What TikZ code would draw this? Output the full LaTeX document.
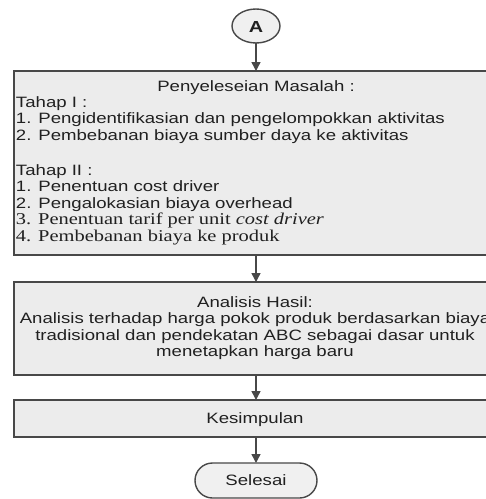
\documentclass[tikz,border=0pt]{standalone}
\usepackage{fontspec}
\setmainfont{Liberation Sans}[FakeStretch=1.24]
\newfontfamily\tms{Liberation Serif}[FakeStretch=1.24]
\usetikzlibrary{arrows.meta,shapes.geometric,shapes.misc}
\definecolor{boxfill}{HTML}{ECECEC}
\definecolor{termfill}{HTML}{F0F0F0}
\definecolor{edge}{HTML}{484848}
\definecolor{ink}{HTML}{202020}
\begin{document}
\begin{tikzpicture}[x=1pt,y=-1pt,
  procbox/.style={draw=edge,fill=boxfill,line width=1.4pt,rectangle,inner sep=0pt,outer sep=0pt,minimum width=484pt},
  termnode/.style={draw=edge,fill=termfill,line width=1.4pt,inner sep=0pt,outer sep=0pt},
  txt/.style={inner sep=0pt,outer sep=0pt,text=ink,font=\fontsize{15}{16.5}\selectfont},
  ttxt/.style={inner sep=0pt,outer sep=0pt,text=ink,font=\fontsize{16.5}{16.5}\selectfont\tms},
  arr/.style={draw=edge,line width=1.4pt,-{Triangle[width=9pt,length=9pt]}}]
\useasboundingbox (0,0) rectangle (486,499);
\clip (0,0) rectangle (486,499);
\fill[white] (0,0) rectangle (486,499);
% nodes
\node[termnode,ellipse,minimum width=48pt,minimum height=34pt] (A) at (256,26) {};
\node[inner sep=0pt,anchor=base,text=ink,font=\fontsize{16}{16}\selectfont\bfseries] (Alab) at (256,32) {A};
\node[procbox,minimum height=184pt] (b1) at (256,163) {};
\node[procbox,minimum height=93pt] (b2) at (256,328.5) {};
\node[procbox,minimum height=37pt] (b3) at (256,418.5) {};
\node[termnode,rounded rectangle,minimum width=122pt,minimum height=35pt] (end) at (256,480.5) {};
% texts box 1
\node[txt,anchor=base] (t0) at (256,91) {Penyeleseian Masalah :};
\node[txt,anchor=base west] (t1) at (16,107) {Tahap I :};
\node[txt,anchor=base west] (t2) at (16,123.5) {1. Pengidentifikasian dan pengelompokkan aktivitas};
\node[txt,anchor=base west] (t3) at (16,140) {2. Pembebanan biaya sumber daya ke aktivitas};
\node[txt,anchor=base west] (t4) at (16,175) {Tahap II :};
\node[txt,anchor=base west] (t5) at (16,191.5) {1. Penentuan cost driver};
\node[txt,anchor=base west] (t6) at (16,208) {2. Pengalokasian biaya overhead};
\node[ttxt,anchor=base west] (t7) at (16,224.5) {3. Penentuan tarif per unit \textit{cost driver}};
\node[ttxt,anchor=base west] (t8) at (16,241) {4. Pembebanan biaya ke produk};
% texts box 2
\node[txt,anchor=base] (u0) at (255,307) {Analisis Hasil:};
\node[txt,anchor=base] (u1) at (255,323.5) {Analisis terhadap harga pokok produk berdasarkan biaya};
\node[txt,anchor=base] (u2) at (255,340) {tradisional dan pendekatan ABC sebagai dasar untuk};
\node[txt,anchor=base] (u3) at (255,356.5) {menetapkan harga baru};
% box 3 and end
\node[txt,anchor=base] (k0) at (255,423.5) {Kesimpulan};
\node[txt,anchor=base] (s0) at (256,485.5) {Selesai};
% connectors
\draw[arr] (A.south) -- (b1.north);
\draw[arr] (b1.south) -- (b2.north);
\draw[arr] (b2.south) -- (b3.north);
\draw[arr] (b3.south) -- (end.north);
\end{tikzpicture}
\end{document}
